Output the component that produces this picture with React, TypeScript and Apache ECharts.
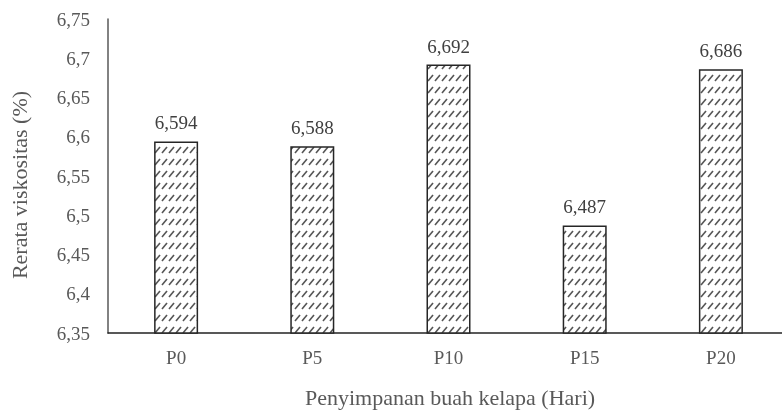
import React, { useEffect, useRef } from "react";
import * as echarts from "echarts";

const categories = ["P0", "P5", "P10", "P15", "P20"];
const values = [6.594, 6.588, 6.692, 6.487, 6.686];
const yTicks = { min: 6.35, max: 6.75, interval: 0.05 };
const xTitle = "Penyimpanan buah kelapa (Hari)";
const yTitle = "Rerata viskositas (%)";

const FONT = "Liberation Serif, Times New Roman, serif";

function makePattern(): HTMLCanvasElement {
  const c = document.createElement("canvas");
  c.width = 7;
  c.height = 12;
  const ctx = c.getContext("2d")!;
  ctx.fillStyle = "#ffffff";
  ctx.fillRect(0, 0, 7, 12);
  ctx.strokeStyle = "#555555";
  ctx.lineWidth = 1.6;
  ctx.beginPath();
  ctx.moveTo(1, 9);
  ctx.lineTo(6, 3);
  ctx.stroke();
  return c;
}

const fmt = (v: number, d: number) => v.toFixed(d).replace(".", ",");

export default function App() {
  const ref = useRef<HTMLDivElement>(null);
  useEffect(() => {
    if (!ref.current) return;
    const chart = echarts.init(ref.current, null, { renderer: "svg" });
    chart.setOption({
      animation: false,
      textStyle: { fontFamily: FONT },
      grid: {
        left: 108,
        width: 681,
        top: 19,
        bottom: 83,
        containLabel: false,
        outerBoundsMode: "none",
      },
      graphic: [
        {
          type: "text",
          x: 450,
          y: 397,
          style: {
            text: xTitle,
            align: "center",
            verticalAlign: "middle",
            fontFamily: FONT,
            fontSize: 22,
            fill: "#595959",
          },
        },
        {
          type: "text",
          x: 19,
          y: 185,
          rotation: Math.PI / 2,
          style: {
            text: yTitle,
            align: "center",
            verticalAlign: "middle",
            fontFamily: FONT,
            fontSize: 22,
            fill: "#595959",
          },
        },
      ],
      xAxis: {
        type: "category",
        data: categories,
        axisLine: { lineStyle: { color: "#222222", width: 1.5 } },
        axisTick: { show: false },
        axisLabel: { fontFamily: FONT, fontSize: 19, color: "#595959", margin: 15 },
      },
      yAxis: {
        type: "value",
        min: yTicks.min,
        max: yTicks.max,
        interval: yTicks.interval,
        axisLine: { show: true, lineStyle: { color: "#595959", width: 1.5 } },
        axisTick: { show: false },
        splitLine: { show: false },
        axisLabel: {
          fontFamily: FONT,
          fontSize: 19,
          color: "#595959",
          margin: 18,
          formatter: (v: number) => {
            const s = String(Math.round(v * 100) / 100);
            return s.replace(".", ",");
          },
        },
      },
      series: [
        {
          type: "bar",
          data: values,
          barWidth: 44,
          itemStyle: {
            color: { image: makePattern(), repeat: "repeat" },
            borderColor: "#262626",
            borderWidth: 1.5,
          },
          label: {
            show: true,
            position: "top",
            distance: 9,
            fontFamily: FONT,
            fontSize: 19,
            color: "#404040",
            formatter: (p: any) => fmt(p.value, 3),
          },
        },
      ],
    });
    return () => chart.dispose();
  }, []);
  return (
    <div
      ref={ref}
      style={{ position: "fixed", left: 0, top: 0, width: 782, height: 416 }}
    />
  );
}
